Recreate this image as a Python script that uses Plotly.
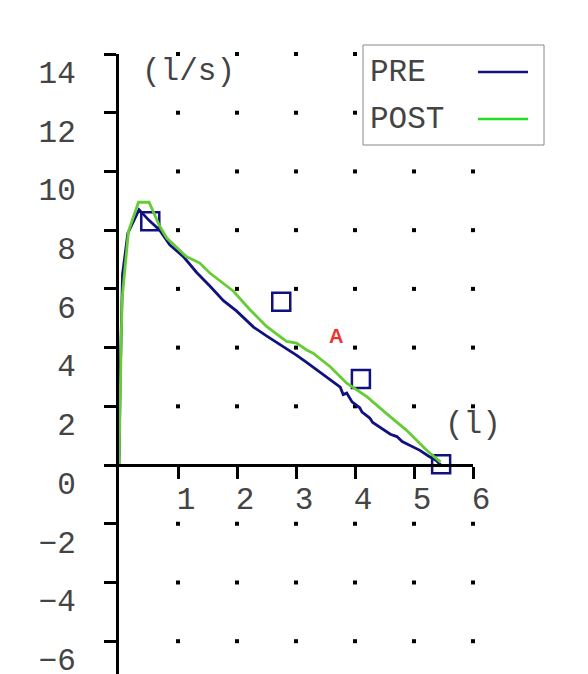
import plotly.graph_objects as go

# ---- data ----
pre_x = [0, 0.02, 0.06, 0.15, 0.34, 0.5, 0.69, 0.86, 1.09, 1.32, 1.54, 1.77, 1.99,
         2.28, 2.5, 2.62, 2.84, 3.0, 3.18, 3.41, 3.58, 3.75, 3.8, 3.86, 3.95,
         4.08, 4.12, 4.25, 4.3, 4.42, 4.5, 4.6, 4.71, 4.8, 4.9, 5.0, 5.1, 5.25,
         5.38, 5.45]
pre_y = [0, 3.0, 6.5, 7.9, 8.7, 8.35, 8.0, 7.5, 7.1, 6.55, 6.1, 5.6, 5.25,
         4.7, 4.4, 4.25, 3.95, 3.75, 3.5, 3.15, 2.9, 2.65, 2.4, 2.45, 2.15,
         1.95, 1.8, 1.6, 1.45, 1.3, 1.2, 1.05, 0.97, 0.8, 0.7, 0.6, 0.5, 0.3,
         0.15, 0.0]

post_x = [0, 0.02, 0.05, 0.16, 0.33, 0.51, 0.69, 0.81, 1.14, 1.37, 1.54, 1.94,
          2.22, 2.5, 2.73, 2.84, 3.01, 3.18, 3.29, 3.58, 3.86, 4.2, 4.53, 4.87,
          5.21, 5.45]
post_y = [0, 2.7, 5.6, 7.95, 8.95, 8.95, 8.13, 7.73, 7.1, 6.88, 6.54, 5.92,
          5.29, 4.72, 4.38, 4.21, 4.15, 3.92, 3.81, 3.35, 2.79, 2.33, 1.76, 1.19,
          0.51, 0.1]

ref_x = [0.53, 2.75, 4.1, 5.46]
ref_y = [8.3, 5.56, 2.93, 0.03]

x_ticks = [1, 2, 3, 4, 5, 6]
y_ticks = [-6, -4, -2, 0, 2, 4, 6, 8, 10, 12, 14]
y_tick_text = ["\u22126", "\u22124", "\u22122", "0", "2", "4", "6", "8", "10", "12", "14"]

series_names = ["PRE", "POST"]
NAVY = "#101080"
GREEN = "#66cc33"
GREEN_LEG = "#22dd22"
MONO = "Liberation Mono, Courier New, monospace"
FS = 31

# grid dots at every tick intersection (except on the axes)
dot_x, dot_y = [], []
for xv in x_ticks:
    for yv in y_ticks:
        if yv != 0:
            dot_x.append(xv)
            dot_y.append(yv)

fig = go.Figure()
fig.add_trace(go.Scatter(x=dot_x, y=dot_y, mode="markers", cliponaxis=False,
                         marker=dict(symbol="square", size=4, color="black"),
                         hoverinfo="skip", showlegend=False))
fig.add_trace(go.Scatter(x=pre_x, y=pre_y, mode="lines", name=series_names[0],
                         line=dict(color=NAVY, width=2.8), showlegend=False))
fig.add_trace(go.Scatter(x=ref_x, y=ref_y, mode="markers", cliponaxis=False,
                         marker=dict(symbol="square-open", size=18, color=NAVY,
                                     line=dict(width=2.5, color=NAVY)),
                         showlegend=False))
fig.add_trace(go.Scatter(x=post_x, y=post_y, mode="lines", name=series_names[1],
                         line=dict(color=GREEN, width=2.8), showlegend=False))

# page body has an 8px margin: figure coords = screen coords - 8
OFF = 8
W, H = 588, 674
L, T, B = 111, 46, 0
pw = 354
R = W - L - pw
ph = H - T - B
unit_px = 29.36
ymax = 14
ymin = ymax - ph / unit_px


def px(xs):
    return (xs - OFF - L) / pw


def py(ys):
    return (H - B - (ys - OFF)) / ph


fig.update_layout(
    width=W, height=H,
    margin=dict(l=L, r=R, t=T, b=B, pad=0, autoexpand=False),
    plot_bgcolor="white", paper_bgcolor="white",
    showlegend=False,
    xaxis=dict(range=[0, 6], anchor="free", position=-ymin / (ymax - ymin),
               automargin=False,
               showline=True, linecolor="black", linewidth=3,
               ticks="outside", ticklen=12, tickwidth=3, tickcolor="black",
               tickvals=x_ticks, ticktext=[str(v) for v in x_ticks],
               showgrid=False, zeroline=False,
               tickfont=dict(family=MONO, size=FS, color="#444"),
               ticklabelshift=8, ticklabelstandoff=-7),
    yaxis=dict(range=[ymin, ymax], automargin=False,
               showline=True, linecolor="black", linewidth=3,
               ticks="outside", ticklen=12, tickwidth=3, tickcolor="black",
               tickvals=y_ticks, ticktext=y_tick_text,
               showgrid=False, zeroline=False,
               tickfont=dict(family=MONO, size=FS, color="#444"),
               ticklabelshift=18, ticklabelstandoff=22),
)

fig.add_annotation(x=1.17, y=13.4, xref="x", yref="y", text="(l/s)", showarrow=False,
                   font=dict(family=MONO, size=FS, color="#444"))
fig.add_annotation(x=6.0, y=1.37, xref="x", yref="y", text="(l)", showarrow=False,
                   font=dict(family=MONO, size=FS, color="#444"))
fig.add_annotation(x=3.68, y=4.4, xref="x", yref="y", text="<b>A</b>", showarrow=False,
                   font=dict(family="Liberation Sans, Arial", size=20, color="#ee3333"))

# legend (text left, line right)
fig.add_shape(type="rect", xref="paper", yref="paper",
              x0=px(363), x1=px(544), y0=py(145), y1=py(45),
              line=dict(color="#888", width=1), fillcolor="white", layer="above")
for name, col, yy in [(series_names[0], NAVY, 72), (series_names[1], GREEN_LEG, 119)]:
    fig.add_shape(type="line", xref="paper", yref="paper",
                  x0=px(478), x1=px(528), y0=py(yy), y1=py(yy),
                  line=dict(color=col, width=2.5), layer="above")
    fig.add_annotation(x=px(368), y=py(yy), xref="paper", yref="paper", text=name,
                       showarrow=False, xanchor="left", yanchor="middle",
                       font=dict(family=MONO, size=FS, color="#444"))

fig.write_html("out.html")
